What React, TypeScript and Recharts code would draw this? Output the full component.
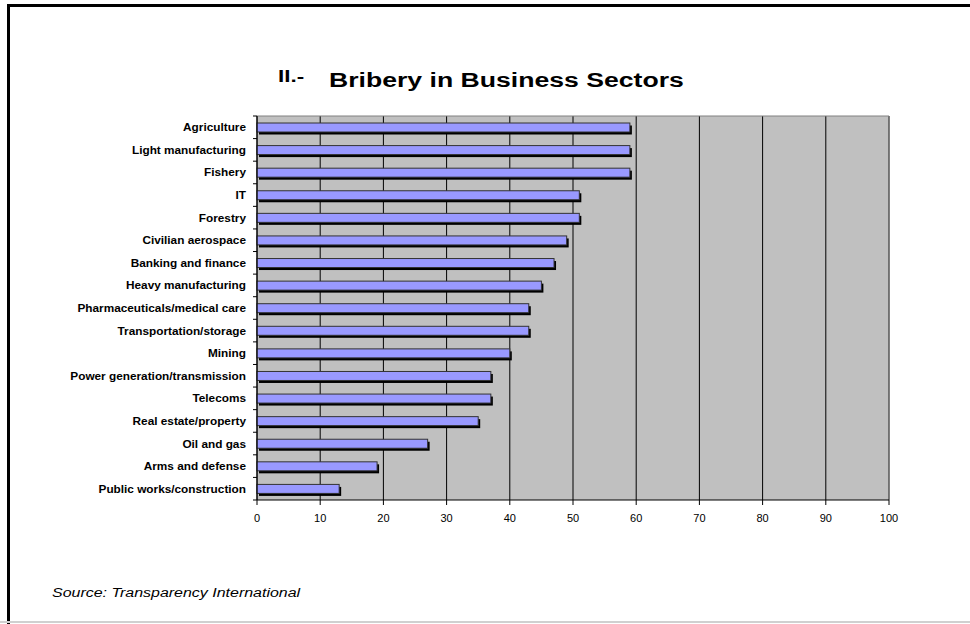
import { BarChart, Bar, XAxis, YAxis, CartesianGrid, ReferenceLine } from 'recharts';

const categories = [
    'Agriculture',
    'Light manufacturing',
    'Fishery',
    'IT',
    'Forestry',
    'Civilian aerospace',
    'Banking and finance',
    'Heavy manufacturing',
    'Pharmaceuticals/medical care',
    'Transportation/storage',
    'Mining',
    'Power generation/transmission',
    'Telecoms',
    'Real estate/property',
    'Oil and gas',
    'Arms and defense',
    'Public works/construction',
];

const bribery = [59, 59, 59, 51, 51, 49, 47, 45, 43, 43, 40, 37, 37, 35, 27, 19, 13];

const xTicks = [0, 10, 20, 30, 40, 50, 60, 70, 80, 90, 100];

const data = categories.map((name, i) => ({ name, value: bribery[i] }));

const PLOT_TOP = 116;
const PLOT_BOTTOM = 500;
const BAND = (PLOT_BOTTOM - PLOT_TOP) / categories.length;
const FONT = '"Liberation Sans", Arial, sans-serif';

// bar with the black drop shadow, like the old Excel look
const ShadowBar = (props: any) => {
    const { x, y, width, height } = props;
    if (!width || width <= 0) return null;
    return (
        <g>
            <rect x={x + 2} y={y + 2.5} width={width} height={height} fill="#000" />
            <rect x={x} y={y} width={width} height={height} fill="#9999FF" stroke="#333" strokeWidth={1} />
        </g>
    );
};

// category label plus small tick at the band boundary
const CategoryTick = (props: any) => {
    const { x, y, payload, index } = props;
    const axisX = x + 11;
    return (
        <g>
            <text
                x={x}
                y={y}
                textAnchor="end"
                dominantBaseline="central"
                fontSize={11.8}
                fontWeight="bold"
                fontFamily={FONT}
                fill="#000"
            >
                {payload.value}
            </text>
            <line x1={axisX - 4} x2={axisX} y1={y - BAND / 2} y2={y - BAND / 2} stroke="#000" />
            {index === categories.length - 1 && (
                <line x1={axisX - 4} x2={axisX} y1={y + BAND / 2} y2={y + BAND / 2} stroke="#000" />
            )}
        </g>
    );
};

const App = () => {
    return (
        <div
            style={{
                position: 'absolute',
                left: 0,
                top: 0,
                width: 970,
                height: 624,
                background: '#fff',
                overflow: 'hidden',
                fontFamily: FONT,
            }}
        >
            {/* frame */}
            <div
                style={{
                    position: 'absolute',
                    left: 7,
                    top: 4,
                    width: 970,
                    height: 617,
                    borderLeft: '3px solid #000',
                    borderTop: '3px solid #000',
                }}
            />
            <div style={{ position: 'absolute', left: 0, top: 621, width: 970, height: 2, background: '#d0d0d0' }} />

            {/* title */}
            <div
                style={{
                    position: 'absolute',
                    left: 278,
                    top: 69,
                    fontSize: 16,
                    lineHeight: '16px',
                    fontWeight: 'bold',
                    whiteSpace: 'nowrap',
                    transform: 'scaleX(1.4)',
                    transformOrigin: 'left top',
                }}
            >
                II.-
            </div>
            <div
                style={{
                    position: 'absolute',
                    left: 329,
                    top: 70,
                    fontSize: 20,
                    lineHeight: '20px',
                    fontWeight: 'bold',
                    whiteSpace: 'nowrap',
                    transform: 'scaleX(1.33)',
                    transformOrigin: 'left top',
                }}
            >
                Bribery in Business Sectors
            </div>

            <div style={{ position: 'absolute', left: 0, top: 0 }}>
                <BarChart
                    width={970}
                    height={624}
                    data={data}
                    layout="vertical"
                    margin={{ top: PLOT_TOP, right: 81, bottom: 94, left: 0 }}
                    barSize={9}
                >
                    <CartesianGrid horizontal={false} stroke="#000" fill="#c0c0c0" fillOpacity={1} />
                    <CartesianGrid vertical={false} horizontalPoints={[PLOT_TOP]} stroke="#808080" />
                    <ReferenceLine x={100} stroke="#808080" />
                    <XAxis
                        type="number"
                        domain={[0, 100]}
                        ticks={xTicks}
                        interval={0}
                        height={30}
                        tickSize={5}
                        tickMargin={9}
                        axisLine={{ stroke: '#000' }}
                        tickLine={{ stroke: '#000' }}
                        tick={{ fill: '#000', fontSize: 11, fontFamily: FONT }}
                    />
                    <YAxis
                        type="category"
                        dataKey="name"
                        width={257}
                        tickSize={4}
                        tickMargin={7}
                        tickLine={false}
                        axisLine={{ stroke: '#000' }}
                        interval={0}
                        tick={<CategoryTick />}
                    />
                    <Bar dataKey="value" shape={<ShadowBar />} isAnimationActive={false} />
                </BarChart>
            </div>

            {/* source */}
            <div
                style={{
                    position: 'absolute',
                    left: 52,
                    top: 586.5,
                    fontSize: 12,
                    lineHeight: '12px',
                    fontStyle: 'italic',
                    whiteSpace: 'nowrap',
                    transform: 'scaleX(1.33)',
                    transformOrigin: 'left top',
                }}
            >
                Source: Transparency International
            </div>
        </div>
    );
};

export default App;
